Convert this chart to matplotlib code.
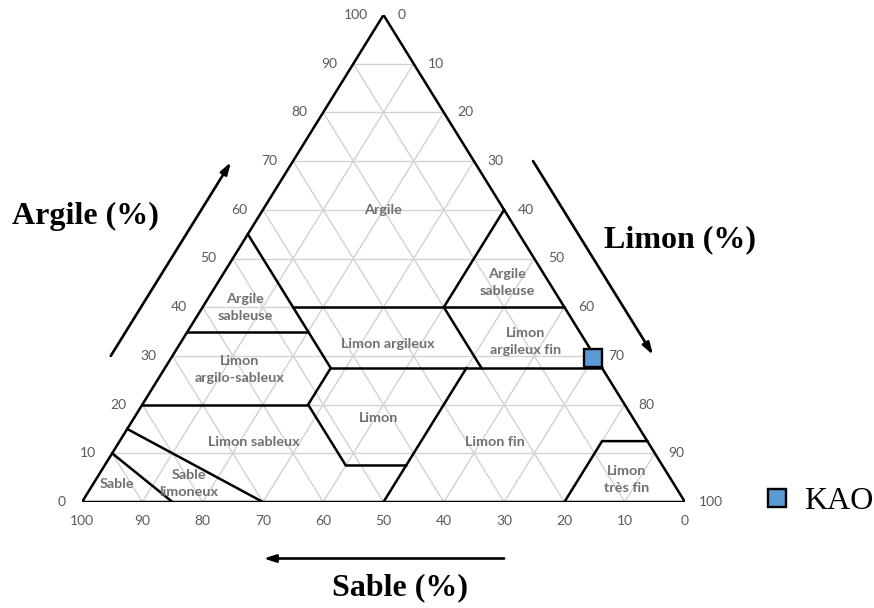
import matplotlib
matplotlib.use("Agg")
import matplotlib.pyplot as plt

# ---------------- data (ternary: clay %, silt %; sand = 100 - clay - silt) -------------
tick_values = list(range(0, 101, 10))
clay_tick_labels = [str(v) for v in tick_values]
silt_tick_labels = [str(v) for v in tick_values]
sand_tick_labels = [str(v) for v in tick_values]

# texture-class boundaries, each a polyline of (clay, silt)
boundary_clay = [
    [55, 27.5],
    [35, 35],
    [40, 40],
    [60, 40],
    [40, 27.5],
    [27.5, 27.5],
    [27.5, 20, 7.5, 7.5],
    [20, 20],
    [0, 27.5],
    [15, 0],
    [10, 0],
    [0, 12.5, 12.5],
]
boundary_silt = [
    [0, 27.5],
    [0, 20],
    [15, 60],
    [40, 40],
    [40, 52.5],
    [27.5, 72.5],
    [27.5, 27.5, 40, 50],
    [0, 27.5],
    [50, 50],
    [0, 30],
    [0, 15],
    [80, 80, 87.5],
]

region_names = ["Argile", "Argile\nsableuse", "Argile\nsableuse", "Limon argileux",
                "Limon\nargileux fin", "Limon\nargilo-sableux", "Limon", "Limon sableux",
                "Limon fin", "Sable", "Sable\nlimoneux", "Limon\ntrès fin"]
region_clay = [60, 40, 45, 32.5, 33, 27.3, 17.2, 12.3, 12.3, 3.7, 3.8, 4.7]
region_silt = [20, 7, 48, 34.5, 57, 12.5, 40.5, 22.4, 62.3, 3.9, 15.8, 88]

sample_names = ["KAO"]
sample_clay = [29.5]
sample_silt = [70.0]


def tern(clay, silt):
    """(clay, silt) -> cartesian (x, y) of the triangle: bottom-left sand=100,
    bottom-right silt=100, top clay=100."""
    return silt + clay / 2.0, clay


# ---------------- figure ----------------
W, H = 874, 608
fig = plt.figure(figsize=(W / 100, H / 100), dpi=100)
ax = fig.add_axes([82 / W, 106 / H, 603 / W, 487 / H])
ax.set_xlim(0, 100)
ax.set_ylim(0, 100)
ax.axis("off")

grid_col = "#d2d2d2"
tick_col = "#5a5a5a"
reg_col = "#707070"

# grid
for v in range(10, 100, 10):
    x, y = zip(*[tern(v, 0), tern(v, 100 - v)])
    ax.plot(x, y, color=grid_col, lw=1.0, zorder=1)
    x, y = zip(*[tern(100 - v, 0), tern(0, 100 - v)])
    ax.plot(x, y, color=grid_col, lw=1.0, zorder=1)
    x, y = zip(*[tern(100 - v, v), tern(0, v)])
    ax.plot(x, y, color=grid_col, lw=1.0, zorder=1)

# outline
x, y = zip(*[tern(0, 0), tern(0, 100), tern(100, 0), tern(0, 0)])
ax.plot(x, y, color="black", lw=1.8, zorder=3, solid_joinstyle="miter")

# boundaries
for cl, sl in zip(boundary_clay, boundary_silt):
    pts = [tern(c, s) for c, s in zip(cl, sl)]
    x, y = zip(*pts)
    ax.plot(x, y, color="black", lw=1.8, zorder=3, solid_joinstyle="miter")

# region labels
for name, c, s in zip(region_names, region_clay, region_silt):
    x, y = tern(c, s)
    ax.text(x, y, name, ha="center", va="center", color=reg_col,
            fontsize=10.4, fontweight="bold", family="Lato", linespacing=1.5, zorder=4)

# tick labels
tick_font = dict(color=tick_col, fontsize=10, family="Lato")
for v, lab in zip(tick_values, clay_tick_labels):
    ax.annotate(lab, tern(v, 0), xytext=(-11.5, 0), textcoords="offset points",
                ha="right", va="center", **tick_font)
for v, lab in zip(tick_values, silt_tick_labels):
    ax.annotate(lab, tern(100 - v, v), xytext=(10, 0), textcoords="offset points",
                ha="left", va="center", **tick_font)
for v, lab in zip(tick_values, sand_tick_labels):
    ax.annotate(lab, tern(0, 100 - v), xytext=(0, -13.7), textcoords="offset points",
                ha="center", va="center", **tick_font)

# sample point
sx, sy = zip(*[tern(c, s) for c, s in zip(sample_clay, sample_silt)])
ax.plot(sx, sy, linestyle="none", marker="s", markersize=13, markerfacecolor="#5b9bd5",
        markeredgecolor="black", markeredgewidth=1.7, zorder=5, clip_on=False,
        label=sample_names[0])

# axis arrows (parallel to edges)
arrow_kw = dict(arrowstyle="-|>,head_length=0.7,head_width=0.22", color="black", lw=1.9,
                shrinkA=0, shrinkB=0)
ax.annotate("", xy=(24.7, 69.8), xytext=(4.77, 30.0), arrowprops=arrow_kw,
            annotation_clip=False)
ax.annotate("", xy=(94.7, 30.2), xytext=(74.8, 70.0), arrowprops=arrow_kw,
            annotation_clip=False)
ax.annotate("", xy=(30.1, -11.6), xytext=(70.0, -11.6), arrowprops=arrow_kw,
            annotation_clip=False)

big = dict(fontsize=23, fontweight="bold", family="Liberation Serif", ha="center",
           va="center", color="black")
ax.text(0.6, 58.7, "Argile (%)", **big)
ax.text(99.2, 53.8, "Limon (%)", **big)
ax.text(52.7, -17.7, "Sable (%)", **big)

leg = ax.legend(loc="center left", bbox_to_anchor=(763 / W, 107 / H),
                bbox_transform=fig.transFigure, frameon=False, handlelength=0.9,
                handletextpad=0.4, borderpad=0, borderaxespad=0,
                prop=dict(family="Liberation Serif", size=23))

fig.savefig("out.png", dpi=100)
